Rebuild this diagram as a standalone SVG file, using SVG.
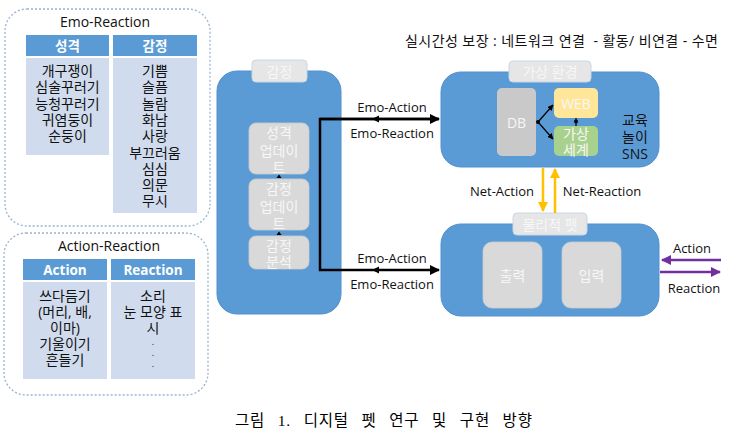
<svg xmlns="http://www.w3.org/2000/svg" width="741" height="443" viewBox="0 0 741 443">
<defs>
<style>
text{font-family:"Open Sans","Noto Sans CJK KR",sans-serif;text-anchor:middle;dominant-baseline:central}
.t14{font-size:14px;fill:#111}
.t13{font-size:13px;fill:#111}
.dot{font-size:9px;fill:#111}
.hd{font-size:13.5px;font-weight:bold;fill:#fff}
.dash{fill:#fff;stroke:#9BB3CF;stroke-width:1.3;stroke-dasharray:2 2}
.head{fill:#5B9BD5}
.body{fill:#D0DCEE}
.big{fill:#5B9BD5;stroke:#5290CE;stroke-width:1}
.tab{fill:#E6E6E6;stroke:#C9D6E6;stroke-width:1}
.gray{fill:#D9D9D9;stroke:#CCCCCC;stroke-width:0.8}
.wt{font-size:14px;fill:#F7F7F7}
.blk{stroke:#000;stroke-width:2.5;fill:none}
.yel{stroke:#FFC000;stroke-width:2.5;fill:none}
.pur{stroke:#7030A0;stroke-width:2.5;fill:none}
</style>
<marker id="ab" viewBox="0 0 10 10" refX="9" refY="5" markerWidth="4" markerHeight="4" orient="auto"><path d="M0,0L10,5L0,10z" fill="#000"/></marker>
<marker id="ay" viewBox="0 0 10 10" refX="9" refY="5" markerWidth="4" markerHeight="4" orient="auto"><path d="M0,0L10,5L0,10z" fill="#FFC000"/></marker>
<marker id="ap" viewBox="0 0 10 10" refX="9" refY="5" markerWidth="4" markerHeight="4" orient="auto"><path d="M0,0L10,5L0,10z" fill="#7030A0"/></marker>
<marker id="as" viewBox="0 0 10 10" refX="9" refY="5" markerWidth="5" markerHeight="5" orient="auto"><path d="M0,0L10,5L0,10z" fill="#000"/></marker>
</defs>
<rect width="741" height="443" fill="#fff"/>

<g id="emo-reaction">
<rect class="dash" x="5" y="9" width="205" height="217" rx="22"/>
<text class="t14" x="105" y="21">Emo-Reaction</text>
<rect class="head" x="26" y="35" width="83" height="21"/>
<text class="hd" x="67.5" y="45.5">성격</text>
<rect class="head" x="113" y="35" width="84" height="21"/>
<text class="hd" x="155" y="45.5">감정</text>
<rect class="body" x="26" y="58" width="83" height="97"/>
<rect class="body" x="113" y="58" width="84" height="155"/>
<text class="t14"><tspan x="67.5" y="70">개구쟁이</tspan><tspan x="67.5" y="86.3">심술꾸러기</tspan><tspan x="67.5" y="102.6">능청꾸러기</tspan><tspan x="67.5" y="118.9">귀염둥이</tspan><tspan x="67.5" y="135.2">순둥이</tspan></text>
<text class="t14"><tspan x="155" y="70">기쁨</tspan><tspan x="155" y="86.3">슬픔</tspan><tspan x="155" y="102.6">놀람</tspan><tspan x="155" y="118.9">화남</tspan><tspan x="155" y="135.2">사랑</tspan><tspan x="155" y="151.5">부끄러움</tspan><tspan x="155" y="167.8">심심</tspan><tspan x="155" y="184.1">의문</tspan><tspan x="155" y="200.4">무시</tspan></text>
</g>

<g id="action-reaction">
<rect class="dash" x="4" y="233" width="204" height="162" rx="22"/>
<text class="t14" x="109" y="245">Action-Reaction</text>
<rect class="head" x="23" y="259" width="84" height="21"/>
<text class="hd" x="65" y="269.5">Action</text>
<rect class="head" x="111" y="259" width="84" height="21"/>
<text class="hd" x="153" y="269.5">Reaction</text>
<rect class="body" x="23" y="282" width="84" height="97"/>
<rect class="body" x="111" y="282" width="84" height="97"/>
<text class="t14"><tspan x="65" y="295">쓰다듬기</tspan><tspan x="65" y="311">(머리, 배,</tspan><tspan x="65" y="327">이마)</tspan><tspan x="65" y="343">기울이기</tspan><tspan x="65" y="359">흔들기</tspan></text>
<text class="t14"><tspan x="153" y="295">소리</tspan><tspan x="153" y="311">눈 모양 표</tspan><tspan x="153" y="327">시</tspan></text>
<text class="dot"><tspan x="153" y="341">.</tspan><tspan x="153" y="352">.</tspan><tspan x="153" y="363">.</tspan></text>
</g>

<g id="emotion">
<rect class="big" x="217" y="71" width="124" height="243" rx="20"/>
<rect class="tab" x="252" y="60" width="55" height="22" rx="4"/>
<text class="wt" x="279.5" y="71">감정</text>
<rect class="gray" x="249" y="123" width="60" height="51" rx="7"/>
<text class="wt"><tspan x="279" y="132">성격</tspan><tspan x="279" y="149.5">업데이</tspan><tspan x="279" y="167">트</tspan></text>
<rect class="gray" x="249" y="179" width="60" height="51" rx="7"/>
<text class="wt"><tspan x="279" y="188">감정</tspan><tspan x="279" y="205.5">업데이</tspan><tspan x="279" y="223">트</tspan></text>
<rect class="gray" x="249" y="236" width="60" height="33" rx="7"/>
<text class="wt"><tspan x="279" y="245">감정</tspan><tspan x="279" y="260.5">분석</tspan></text>
<path d="M276.5,178 L279,174.5 L281.5,178z" fill="#000"/>
<path d="M276.5,235 L279,231.5 L281.5,235z" fill="#000"/>
</g>

<g id="virtual-env">
<rect class="big" x="441" y="72" width="218" height="95" rx="20"/>
<rect class="tab" x="509" y="61" width="82" height="21" rx="4"/>
<text class="wt" x="550" y="71.5">가상 환경</text>
<rect x="497" y="88" width="39" height="68" rx="5" fill="#C9C9C9"/>
<text class="wt" x="516.5" y="122">DB</text>
<rect x="554" y="88" width="44" height="30" rx="5" fill="#FFE699"/>
<text class="wt" x="576" y="103">WEB</text>
<rect x="554" y="126" width="44" height="30" rx="5" fill="#A9D18E"/>
<text class="wt"><tspan x="576" y="133">가상</tspan><tspan x="576" y="149">세계</tspan></text>
<text class="t14"><tspan x="635" y="119">교육</tspan><tspan x="635" y="136">놀이</tspan><tspan x="635" y="153">SNS</tspan></text>
</g>

<g id="physical-pet">
<rect class="big" x="441" y="224" width="218" height="92" rx="20"/>
<rect class="tab" x="513" y="213" width="74" height="22" rx="4"/>
<text class="wt" x="550" y="224">물리적 펫</text>
<rect class="gray" x="483" y="242" width="59" height="66" rx="9"/>
<text class="wt" x="512.5" y="275">출력</text>
<rect class="gray" x="562" y="242" width="59" height="66" rx="9"/>
<text class="wt" x="591.5" y="275">입력</text>
</g>

<g id="connectors">
<path class="blk" d="M439,119 H320 V270 H439" marker-end="url(#ab)"/>
<path class="blk" d="M320,119 H439" marker-end="url(#ab)"/>
<path d="M372,119 L379,115.5 L379,122.5z" fill="#000"/>
<path d="M372,270 L379,266.5 L379,273.5z" fill="#000"/>
<path class="yel" d="M543,168 V211" marker-end="url(#ay)"/>
<path class="yel" d="M555,213 V169" marker-end="url(#ay)"/>
<path class="pur" d="M721,260 H662" marker-end="url(#ap)"/>
<path class="pur" d="M660,272 H720" marker-end="url(#ap)"/>
<path d="M538,122 L553,105" stroke="#000" stroke-width="1.2" fill="none" marker-end="url(#as)"/>
<path d="M538,122 L553,139" stroke="#000" stroke-width="1.2" fill="none" marker-end="url(#as)"/>
<circle cx="538" cy="122" r="2" fill="#000"/>
<path d="M576,118 V126" stroke="#000" stroke-width="1.2"/>
<circle cx="576" cy="121.5" r="2" fill="#000"/>
<text class="t13" x="392" y="107">Emo-Action</text>
<text class="t13" x="392" y="133">Emo-Reaction</text>
<text class="t13" x="392" y="258">Emo-Action</text>
<text class="t13" x="392" y="284">Emo-Reaction</text>
<text class="t13" x="502" y="191">Net-Action</text>
<text class="t13" x="602" y="191">Net-Reaction</text>
<text class="t13" x="692" y="248">Action</text>
<text class="t13" x="694" y="288">Reaction</text>
</g>

<text class="t14" x="405" y="40" textLength="313" lengthAdjust="spacing" style="text-anchor:start" xml:space="preserve">실시간성 보장 : 네트워크 연결  - 활동/ 비연결 - 수면</text>
<text x="235" y="420" style="text-anchor:start;font-family:'Liberation Serif','Noto Sans CJK KR',serif;font-size:15.5px;letter-spacing:0.8px;word-spacing:8px;fill:#000">그림 1. 디지털 펫 연구 및 구현 방향</text>
</svg>
